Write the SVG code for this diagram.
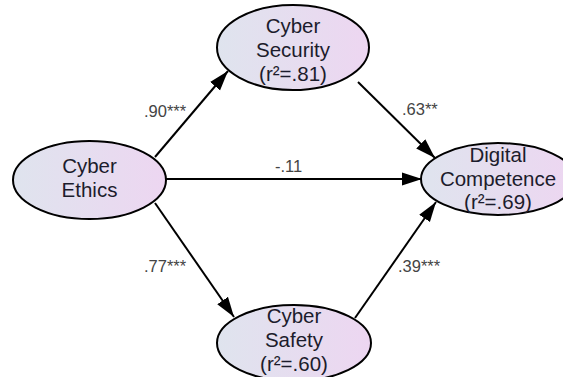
<svg xmlns="http://www.w3.org/2000/svg" width="563" height="377" viewBox="0 0 563 377">
  <style>
    .node ellipse { fill: url(#nodeFill); stroke: #000; stroke-width: 2; }
    .node text { font-family: "Liberation Sans", Arial, sans-serif; font-size: 20.5px; fill: #1c1c2c; text-anchor: middle; }
    .edge { stroke: #000; stroke-width: 2; fill: none; marker-end: url(#arrow); }
    .coef { font-family: "Liberation Sans", Arial, sans-serif; font-size: 16.5px; fill: #444; }
  </style>
  <defs>
    <linearGradient id="nodeFill" x1="0" y1="0" x2="1" y2="0">
      <stop offset="0" stop-color="#dfe4ee"/>
      <stop offset="1" stop-color="#edd6f1"/>
    </linearGradient>
    <marker id="arrow" markerUnits="userSpaceOnUse" markerWidth="22" markerHeight="16" viewBox="0 -8 22 16" refX="20" refY="0" orient="auto">
      <path d="M0,-6.5 L20,0 L0,6.5 z" fill="#000"/>
    </marker>
  </defs>

  <rect width="563" height="377" fill="#fff"/>

  <!-- path arrows with standardized coefficients -->
  <g id="connectors">
    <line class="edge" x1="155" y1="157" x2="228" y2="71"/>
    <line class="edge" x1="166" y1="179" x2="422" y2="179"/>
    <line class="edge" x1="155" y1="203" x2="234" y2="317"/>
    <line class="edge" x1="358" y1="82" x2="435" y2="158"/>
    <line class="edge" x1="355" y1="318" x2="436" y2="202"/>
    <text class="coef" x="144" y="117">.90***</text>
    <text class="coef" x="275" y="172">-.11</text>
    <text class="coef" x="144" y="272">.77***</text>
    <text class="coef" x="402" y="115">.63**</text>
    <text class="coef" x="398" y="272">.39***</text>
  </g>

  <g id="cyber-ethics" class="node">
    <ellipse cx="89.5" cy="180" rx="76.5" ry="39"/>
    <text x="89.5" y="173">Cyber</text>
    <text x="89.5" y="197">Ethics</text>
  </g>

  <g id="cyber-security" class="node">
    <ellipse cx="293" cy="47.5" rx="76" ry="42.5"/>
    <text x="293" y="33">Cyber</text>
    <text x="293" y="57">Security</text>
    <text x="293" y="81">(r²=.81)</text>
  </g>

  <g id="digital-competence" class="node">
    <ellipse cx="498" cy="179" rx="77" ry="36"/>
    <text x="498" y="162">Digital</text>
    <text x="498" y="185.5">Competence</text>
    <text x="498" y="209">(r²=.69)</text>
  </g>

  <g id="cyber-safety" class="node">
    <ellipse cx="294" cy="343" rx="77" ry="38"/>
    <text x="294" y="323">Cyber</text>
    <text x="294" y="347">Safety</text>
    <text x="294" y="371">(r²=.60)</text>
  </g>
</svg>
